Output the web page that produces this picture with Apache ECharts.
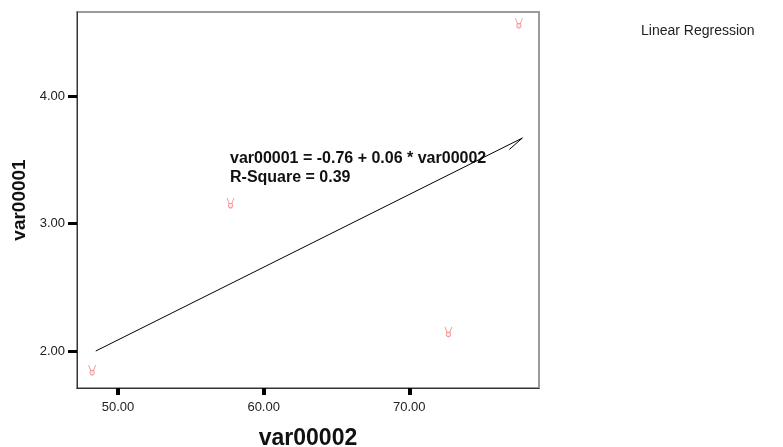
<!DOCTYPE html>
<html>
<head>
<meta charset="utf-8">
<script src="https://cdn.jsdelivr.net/npm/echarts@6/dist/echarts.min.js"></script>
<style>
  html, body { margin: 0; padding: 0; background: #fff; }
  #chart { width: 783px; height: 447px; }
</style>
</head>
<body>
<div id="chart"></div>
<script>
// observed points (var00002, var00001)
const pointX = [48.22, 57.72, 72.69, 77.53];
const pointY = [1.85, 3.16, 2.15, 4.57];

// fitted line as drawn (with the little hook at its end)
const lineX = [48.47, 77.77, 76.87];
const lineY = [2.00, 3.67, 3.58];

const xTicks = [50, 60, 70];
const yTicks = [2, 3, 4];

const eqText = 'var00001 = -0.76 + 0.06 * var00002';
const rsqText = 'R-Square = 0.39';

const chart = echarts.init(document.getElementById('chart'));

const font = 'Liberation Sans, Arial, sans-serif';
const tickLabel = {
  fontFamily: font,
  fontSize: 13,
  color: '#222',
  formatter: v => Number(v).toFixed(2)
};

// small "hand" marker, outline only
const handPath = 'path://M1,0 L3.5,6 M9,0 L6.5,6 M3,6 L7,6 L7.5,9 Q5,13 2.5,9 Z';

const option = {
  animation: false,
  backgroundColor: '#fff',
  grid: {
    left: 77, top: 12, right: 244, bottom: 59,
    outerBoundsMode: 'none',
    containLabel: false,
    show: true,
    borderColor: '#9a9a9a',
    borderWidth: 2
  },
  legend: {
    left: 631, top: 19,
    itemWidth: 0, itemHeight: 0,
    textStyle: { fontFamily: font, fontSize: 14, color: '#222' },
    data: [{ name: 'Linear Regression', icon: 'none' }]
  },
  xAxis: {
    type: 'value',
    min: 47.18, max: 78.91,
    name: 'var00002',
    nameLocation: 'middle',
    nameGap: 39,
    nameTextStyle: { fontFamily: font, fontSize: 23, fontWeight: 'bold', color: '#111' },
    splitLine: { show: false },
    axisLine: { show: true, lineStyle: { color: '#333', width: 1 } },
    axisTick: { show: true, customValues: xTicks, length: 7, lineStyle: { color: '#000', width: 4 } },
    axisLabel: Object.assign({ customValues: xTicks, margin: 13 }, tickLabel)
  },
  yAxis: {
    type: 'value',
    min: 1.71, max: 4.658,
    name: 'var00001',
    nameLocation: 'middle',
    nameGap: 46,
    nameTextStyle: { fontFamily: font, fontSize: 19, fontWeight: 'bold', color: '#111' },
    splitLine: { show: false },
    axisLine: { show: true, lineStyle: { color: '#333', width: 1 } },
    axisTick: { show: true, customValues: yTicks, length: 9, lineStyle: { color: '#000', width: 3 } },
    axisLabel: Object.assign({ customValues: yTicks, margin: 12 }, tickLabel)
  },
  graphic: [{
    type: 'text',
    left: 230, top: 149,
    style: {
      text: eqText + '\n' + rsqText,
      fontFamily: font,
      fontSize: 16,
      fontWeight: 'bold',
      lineHeight: 19,
      fill: '#111'
    }
  }],
  series: [
    {
      name: 'Linear Regression',
      type: 'line',
      data: lineX.map((x, i) => [x, lineY[i]]),
      showSymbol: false,
      lineStyle: { color: '#000', width: 1 },
      z: 3
    },
    {
      name: 'points',
      type: 'scatter',
      data: pointX.map((x, i) => [x, pointY[i]]),
      symbol: handPath,
      symbolSize: [7, 10],
      itemStyle: { color: 'rgba(240,140,140,0.25)', borderColor: '#f07f7f', borderWidth: 1 },
      z: 4
    }
  ]
};

chart.setOption(option);
</script>
</body>
</html>
